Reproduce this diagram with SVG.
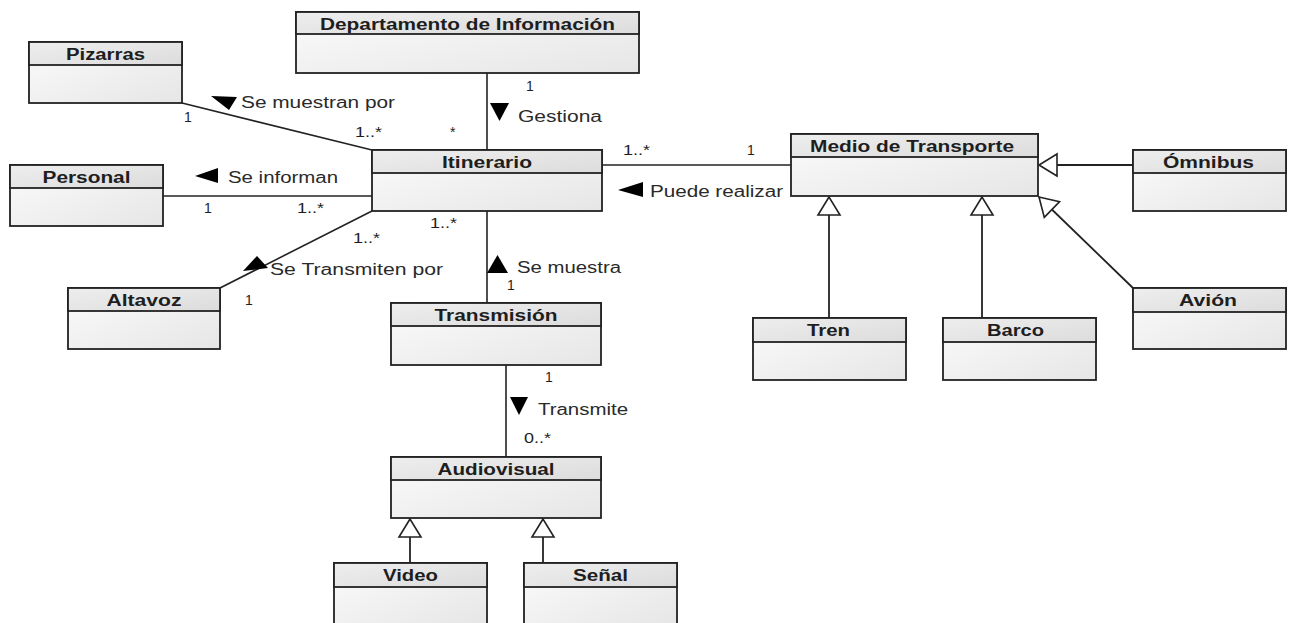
<svg xmlns="http://www.w3.org/2000/svg" width="1289" height="623" viewBox="0 0 1289 623">
  <defs>
    <linearGradient id="hdr" x1="0" y1="0" x2="1" y2="1">
      <stop offset="0" stop-color="#eeeeee"/>
      <stop offset="1" stop-color="#dcdcdc"/>
    </linearGradient>
    <linearGradient id="body" x1="0" y1="0" x2="1" y2="1">
      <stop offset="0" stop-color="#fbfbfb"/>
      <stop offset="1" stop-color="#e6e6e6"/>
    </linearGradient>
    <marker id="gen" markerUnits="userSpaceOnUse" markerWidth="24" markerHeight="26" viewBox="0 0 24 26" refX="20" refY="13" orient="auto">
      <polygon points="20,13 2,2 2,24" fill="#fff" stroke="#222" stroke-width="1.6"/>
    </marker>
  </defs>
  <style>
    .box rect.b { fill: url(#body); stroke: #222; stroke-width: 1.8; }
    .box rect.h { fill: url(#hdr); stroke: #222; stroke-width: 1.8; }
    .box text { font-family: "Liberation Sans", Arial, sans-serif; font-weight: bold; font-size: 16px; fill: #1e1e1e; text-anchor: middle; }
    .lbl { font-family: "Liberation Sans", Arial, sans-serif; font-size: 16px; fill: #2a2a2a; }
    .mul { font-family: "Liberation Sans", Arial, sans-serif; font-size: 14px; fill: #1e1e1e; }
    .assoc { stroke: #222; stroke-width: 1.6; fill: none; }
    .gen { stroke: #222; stroke-width: 1.8; fill: none; marker-end: url(#gen); }
    .dir { fill: #000; }
  </style>

  <rect width="1289" height="623" fill="#fff"/>

  <!-- connectors: associations, generalizations, direction markers, roles and multiplicities -->
  <g id="connectors">
    <line class="assoc" x1="487" y1="73" x2="487" y2="150"/>
    <line class="assoc" x1="182" y1="103" x2="372" y2="150"/>
    <line class="assoc" x1="163" y1="196" x2="372" y2="196"/>
    <line class="assoc" x1="220" y1="288" x2="372" y2="211"/>
    <line class="assoc" x1="487" y1="211" x2="487" y2="303"/>
    <line class="assoc" x1="602" y1="165" x2="791" y2="165"/>
    <line class="assoc" x1="506" y1="365" x2="506" y2="457"/>

    <line class="gen" x1="1133" y1="165" x2="1039" y2="165"/>
    <line class="gen" x1="829" y1="318" x2="829" y2="197"/>
    <line class="gen" x1="982" y1="318" x2="982" y2="197"/>
    <line class="gen" x1="1133" y1="288" x2="1039" y2="197"/>
    <line class="gen" x1="410" y1="563" x2="410" y2="519"/>
    <line class="gen" x1="543" y1="563" x2="543" y2="519"/>

    <polygon class="dir" points="211,96 237,97 229,110"/>
    <polygon class="dir" points="490,103 509,103 499.5,121"/>
    <polygon class="dir" points="195,176 218,168 218,183"/>
    <polygon class="dir" points="618,190 643,182 643,197"/>
    <polygon class="dir" points="243,271 257,256 268,268"/>
    <polygon class="dir" points="497.5,255 487,273 508,273"/>
    <polygon class="dir" points="510,397 528,397 519,415"/>

    <text class="lbl" x="241" y="108" textLength="154" lengthAdjust="spacingAndGlyphs">Se muestran por</text>
    <text class="lbl" x="518" y="122" textLength="84" lengthAdjust="spacingAndGlyphs">Gestiona</text>
    <text class="lbl" x="228" y="183" textLength="110" lengthAdjust="spacingAndGlyphs">Se informan</text>
    <text class="lbl" x="650" y="197" textLength="133" lengthAdjust="spacingAndGlyphs">Puede realizar</text>
    <text class="lbl" x="270" y="275" textLength="173" lengthAdjust="spacingAndGlyphs">Se Transmiten por</text>
    <text class="lbl" x="517" y="273" textLength="104" lengthAdjust="spacingAndGlyphs">Se muestra</text>
    <text class="lbl" x="538" y="415" textLength="90" lengthAdjust="spacingAndGlyphs">Transmite</text>

    <text class="mul" x="184" y="122">1</text>
    <text class="mul" x="355" y="137" textLength="27" lengthAdjust="spacingAndGlyphs">1..*</text>
    <text class="mul" x="450" y="137">*</text>
    <text class="mul" x="526" y="91">1</text>
    <text class="mul" x="204" y="213">1</text>
    <text class="mul" x="297" y="213" textLength="27" lengthAdjust="spacingAndGlyphs">1..*</text>
    <text class="mul" x="353" y="243" textLength="27" lengthAdjust="spacingAndGlyphs">1..*</text>
    <text class="mul" x="245" y="305">1</text>
    <text class="mul" x="430" y="228" textLength="27" lengthAdjust="spacingAndGlyphs">1..*</text>
    <text class="mul" x="507" y="290">1</text>
    <text class="mul" x="623" y="155" textLength="27" lengthAdjust="spacingAndGlyphs">1..*</text>
    <text class="mul" x="747" y="155">1</text>
    <text class="mul" x="545" y="382">1</text>
    <text class="mul" x="524" y="443" textLength="27" lengthAdjust="spacingAndGlyphs">0..*</text>
  </g>

  <!-- classes -->
  <g id="departamento" class="box">
    <rect class="b" x="296" y="12" width="343" height="61"/>
    <rect class="h" x="296" y="12" width="343" height="22"/>
    <text x="467.5" y="30" textLength="295" lengthAdjust="spacingAndGlyphs">Departamento de Información</text>
  </g>
  <g id="pizarras" class="box">
    <rect class="b" x="29" y="42" width="153" height="61"/>
    <rect class="h" x="29" y="42" width="153" height="23"/>
    <text x="105.5" y="60" textLength="79" lengthAdjust="spacingAndGlyphs">Pizarras</text>
  </g>
  <g id="personal" class="box">
    <rect class="b" x="10" y="165" width="153" height="61"/>
    <rect class="h" x="10" y="165" width="153" height="23"/>
    <text x="86.5" y="183" textLength="88" lengthAdjust="spacingAndGlyphs">Personal</text>
  </g>
  <g id="itinerario" class="box">
    <rect class="b" x="372" y="150" width="230" height="61"/>
    <rect class="h" x="372" y="150" width="230" height="23"/>
    <text x="487" y="168" textLength="90" lengthAdjust="spacingAndGlyphs">Itinerario</text>
  </g>
  <g id="altavoz" class="box">
    <rect class="b" x="68" y="288" width="152" height="61"/>
    <rect class="h" x="68" y="288" width="152" height="23"/>
    <text x="144" y="306" textLength="75" lengthAdjust="spacingAndGlyphs">Altavoz</text>
  </g>
  <g id="transmision" class="box">
    <rect class="b" x="391" y="303" width="210" height="62"/>
    <rect class="h" x="391" y="303" width="210" height="23"/>
    <text x="496" y="321" textLength="123" lengthAdjust="spacingAndGlyphs">Transmisión</text>
  </g>
  <g id="audiovisual" class="box">
    <rect class="b" x="391" y="457" width="210" height="61"/>
    <rect class="h" x="391" y="457" width="210" height="23"/>
    <text x="496" y="475" textLength="117" lengthAdjust="spacingAndGlyphs">Audiovisual</text>
  </g>
  <g id="video" class="box">
    <rect class="b" x="334" y="563" width="153" height="62"/>
    <rect class="h" x="334" y="563" width="153" height="24"/>
    <text x="410.5" y="581" textLength="55" lengthAdjust="spacingAndGlyphs">Video</text>
  </g>
  <g id="senal" class="box">
    <rect class="b" x="524" y="563" width="153" height="62"/>
    <rect class="h" x="524" y="563" width="153" height="24"/>
    <text x="600.5" y="581" textLength="55" lengthAdjust="spacingAndGlyphs">Señal</text>
  </g>
  <g id="medio-transporte" class="box">
    <rect class="b" x="791" y="134" width="247" height="62"/>
    <rect class="h" x="791" y="134" width="247" height="23"/>
    <text x="912" y="152" textLength="204" lengthAdjust="spacingAndGlyphs">Medio de Transporte</text>
  </g>
  <g id="omnibus" class="box">
    <rect class="b" x="1133" y="150" width="153" height="61"/>
    <rect class="h" x="1133" y="150" width="153" height="23"/>
    <text x="1208.5" y="168" textLength="91" lengthAdjust="spacingAndGlyphs">Ómnibus</text>
  </g>
  <g id="avion" class="box">
    <rect class="b" x="1133" y="288" width="153" height="61"/>
    <rect class="h" x="1133" y="288" width="153" height="24"/>
    <text x="1208" y="306" textLength="58" lengthAdjust="spacingAndGlyphs">Avión</text>
  </g>
  <g id="tren" class="box">
    <rect class="b" x="753" y="318" width="153" height="62"/>
    <rect class="h" x="753" y="318" width="153" height="24"/>
    <text x="828.5" y="336" textLength="43" lengthAdjust="spacingAndGlyphs">Tren</text>
  </g>
  <g id="barco" class="box">
    <rect class="b" x="943" y="318" width="153" height="62"/>
    <rect class="h" x="943" y="318" width="153" height="24"/>
    <text x="1015.5" y="336" textLength="57" lengthAdjust="spacingAndGlyphs">Barco</text>
  </g>
</svg>
